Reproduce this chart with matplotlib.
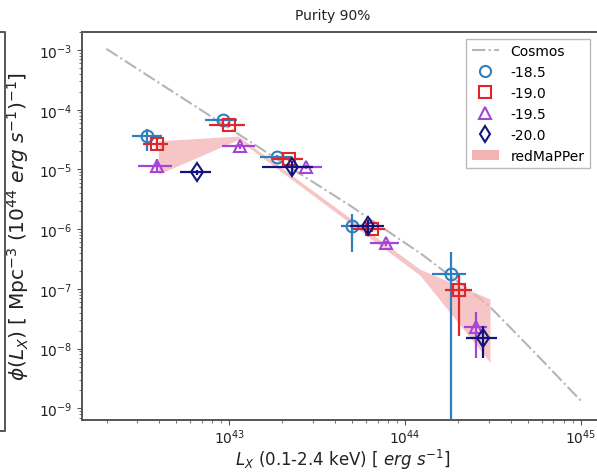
import numpy as np
import matplotlib
matplotlib.use("Agg")
import matplotlib.pyplot as plt
from matplotlib.lines import Line2D
from matplotlib.patches import Patch

# values, as log10
cosmos_lx = [42.30, 42.80, 43.30, 43.69, 44.10, 44.47, 44.73, 45.00]
cosmos_phi = [-2.98, -3.93, -4.88, -5.61, -6.43, -7.26, -8.04, -8.87]

band_lx = [42.596, 43.051, 44.085, 44.484]
band_hi = [-4.52, -4.44, -6.67, -7.17]
band_lo = [-5.08, -4.50, -6.77, -8.23]

labels = ["-18.5", "-19.0", "-19.5", "-20.0"]
colors = ["#2f7fbf", "#e0262b", "#a545d8", "#14147e"]
markers = ["o", "s", "^", "d"]

# per magnitude cut: centre, x low/high, y, y low/high (log10); None = down to 0
lx = [[42.533, 42.962, 43.273, 43.697, 44.260],
      [42.587, 43.000, 43.340, 43.810, 44.310],
      [42.587, 43.061, 43.437, 43.892, 44.404],
      [42.814, 43.355, 43.791, 44.442]]
lx_lo = [[42.444, 42.862, 43.175, 43.634, 44.152],
         [42.511, 42.886, 43.241, 43.706, 44.228],
         [42.482, 42.957, 43.345, 43.801, 44.336],
         [42.719, 43.184, 43.687, 44.347]]
lx_hi = [[42.615, 43.042, 43.355, 43.792, 44.345],
         [42.653, 43.089, 43.421, 43.886, 44.383],
         [42.672, 43.146, 43.526, 43.968, 44.469],
         [42.896, 43.478, 43.880, 44.525]]
phi = [[-4.446, -4.167, -4.797, -5.943, -6.752],
       [-4.575, -4.251, -4.826, -5.998, -7.015],
       [-4.938, -4.613, -4.955, -6.238, -7.645],
       [-5.049, -4.965, -5.943, -7.814]]
phi_lo = [[-4.687, -4.20, -4.83, -6.389, None],
          [-4.670, -4.29, -4.86, -6.04, -7.786],
          [-5.049, -4.65, -4.99, -6.28, -8.164],
          [-5.09, -5.077, -6.080, -8.164]]
phi_hi = [[-4.323, -4.13, -4.76, -5.747, -6.389],
          [-4.491, -4.21, -4.79, -5.95, -6.769],
          [-4.826, -4.58, -4.92, -6.20, -7.394],
          [-5.01, -4.854, -5.840, -7.618]]

W, H = 597, 477
fig = plt.figure(figsize=(W / 100, H / 100), dpi=100)
ax = fig.add_axes([82.3 / W, 1 - 420.7 / H, (603 - 82.3) / W, (420.7 - 32.7) / H])
ax.set_xscale("log")
ax.set_yscale("log")

ax.plot(10 ** np.array(cosmos_lx), 10 ** np.array(cosmos_phi), color="#b5b5b5",
        ls="-.", lw=1.5, zorder=1)
ax.fill_between(10 ** np.array(band_lx), 10 ** np.array(band_lo), 10 ** np.array(band_hi),
                color="#f3b3b3", alpha=0.75, lw=0, zorder=2)

for i in range(4):
    x = 10 ** np.array(lx[i])
    y = 10 ** np.array(phi[i])
    xl = x - 10 ** np.array(lx_lo[i])
    xh = 10 ** np.array(lx_hi[i]) - x
    ylo = np.array([0.0 if v is None else 10 ** v for v in phi_lo[i]])
    yl = y - ylo
    yh = 10 ** np.array(phi_hi[i]) - y
    ax.errorbar(x, y, xerr=[xl, xh], yerr=[yl, yh], fmt=markers[i], color=colors[i],
                mfc="none", mec=colors[i], ms=8.5 if markers[i] != "d" else 9.5, mew=1.5,
                elinewidth=1.6, capsize=0, zorder=3 + i)

ax.set_xlim(10 ** 42.163, 10 ** 45.127)
ax.set_ylim(10 ** -9.19, 10 ** -2.693)

for s in ax.spines.values():
    s.set_color("#555555")
    s.set_linewidth(1.4)
ax.tick_params(which="both", colors="#555555", labelcolor="#222222", labelsize=10)
ax.tick_params(axis="x", which="major", pad=2)

ax.set_xlabel(r"$L_X$ (0.1-2.4 keV) [ $erg$ $s^{-1}$]", fontsize=12, color="#222222",
              labelpad=1)
ax.set_ylabel(r"$\phi(L_X)$ [ Mpc$^{-3}$ (10$^{44}$ $erg$ $s^{-1}$)$^{-1}$]",
              fontsize=14.5, color="#222222", labelpad=6)
ax.set_title("Purity 90%", fontsize=10, x=(333 - 82.3) / (603 - 82.3), color="#222222",
             pad=9)

handles = [Line2D([], [], color="#b5b5b5", ls="-.", lw=1.5)]
for i in range(4):
    handles.append(Line2D([], [], ls="none", marker=markers[i], mfc="none",
                          mec=colors[i], mew=1.5, ms=8))
handles.append(Patch(facecolor="#f3b3b3", edgecolor="none"))
leg = ax.legend(handles, ["Cosmos"] + labels + ["redMaPPer"], loc="upper left",
                bbox_to_anchor=((459 - 82.3) / (603 - 82.3), 1.0), fontsize=10,
                fancybox=False, edgecolor="#aaaaaa", handlelength=2.0)

# edge of the neighbouring panel
fig.add_artist(Line2D([0, 5 / W, 5 / W, 0], [1 - 33 / H, 1 - 33 / H, 1 - 432 / H, 1 - 432 / H],
                      color="#555555", lw=1.4))

fig.savefig("out.png", dpi=100)
